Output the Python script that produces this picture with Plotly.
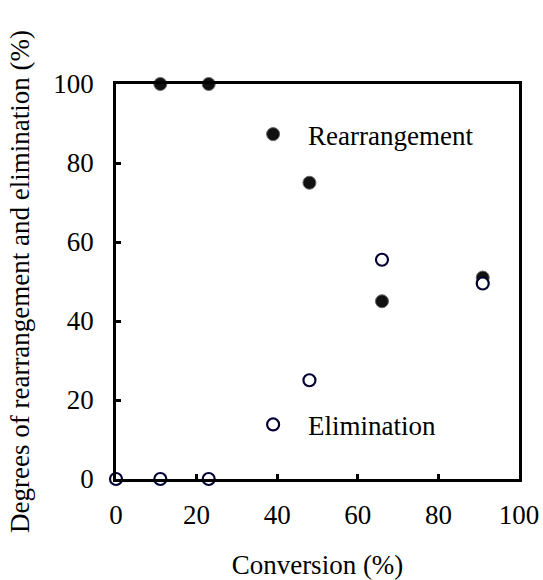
import plotly.graph_objects as go

# Data
rearr_conv = [11, 23, 48, 66, 91]
rearr_deg = [100, 100, 75, 45, 51]
elim_conv = [0, 11, 23, 48, 66, 91]
elim_deg = [0, 0, 0, 25, 55.5, 49.5]

x_ticks = [0, 20, 40, 60, 80, 100]
y_ticks = [0, 20, 40, 60, 80, 100]

FONT = "Liberation Serif"

fig = go.Figure()
fig.add_trace(go.Scatter(
    x=rearr_conv, y=rearr_deg, mode="markers", name="Rearrangement",
    marker=dict(symbol="circle", size=13, color="#111111",
                line=dict(color="#666666", width=1)),
    cliponaxis=False, legend="legend", showlegend=True,
))
fig.add_trace(go.Scatter(
    x=elim_conv, y=elim_deg, mode="markers", name="Elimination",
    marker=dict(symbol="circle", size=12, color="white",
                line=dict(color="#000033", width=2.2)),
    cliponaxis=False, legend="legend2", showlegend=True,
))

axis_common = dict(
    showline=True, linecolor="black", linewidth=2.5, mirror=True,
    ticks="inside", ticklen=5, tickwidth=2.5, tickcolor="black",
    showgrid=False, zeroline=False, automargin=False,
    tickfont=dict(family=FONT, size=27, color="black"),
)

fig.update_layout(
    template="none",
    width=543, height=580,
    margin=dict(l=116, r=24, t=84, b=101),
    paper_bgcolor="white", plot_bgcolor="white",
    font=dict(family=FONT, color="black", size=27),
    showlegend=True,
    xaxis=dict(range=[0, 100], tickvals=x_ticks, ticklabelstandoff=10,
               title=dict(text="Conversion (%)", font=dict(family=FONT, size=27, color="black"), standoff=38),
               **axis_common),
    yaxis=dict(range=[0, 100], tickvals=y_ticks, ticklabelstandoff=14,
               title=dict(text="Degrees of rearrangement and elimination (%)",
                          font=dict(family=FONT, size=27, color="black"), standoff=16),
               **axis_common),
    legend=dict(x=0.303, y=0.872, xanchor="left", yanchor="middle",
                bgcolor="rgba(0,0,0,0)", itemwidth=60,
                font=dict(family=FONT, size=27, color="black")),
    legend2=dict(x=0.303, y=0.137, xanchor="left", yanchor="middle",
                 bgcolor="rgba(0,0,0,0)", itemwidth=60,
                 font=dict(family=FONT, size=27, color="black")),
)

fig.write_html("out.html")
